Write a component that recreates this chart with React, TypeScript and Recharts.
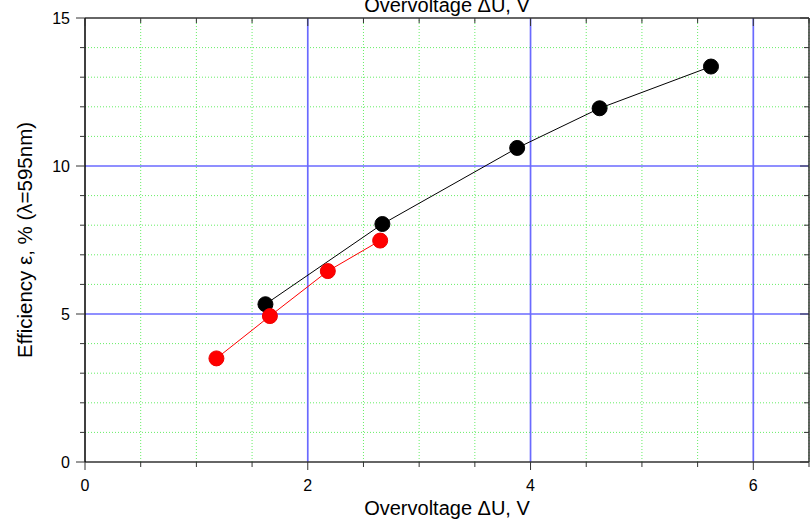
import React from "react";
import {
  ComposedChart,
  Line,
  XAxis,
  YAxis,
  ReferenceLine,
  Label,
} from "recharts";

// measured points (overvoltage dU in V, efficiency in %)
const blackU = [1.62, 2.67, 3.88, 4.62, 5.62];
const blackEff = [5.33, 8.04, 10.61, 11.95, 13.36];
const redU = [1.18, 1.66, 2.18, 2.65];
const redEff = [3.5, 4.93, 6.45, 7.48];

const xTicks = [0, 0.5, 1, 1.5, 2, 2.5, 3, 3.5, 4, 4.5, 5, 5.5, 6, 6.5];
const xMajor = [0, 2, 4, 6];
const yTicks = [0, 1, 2, 3, 4, 5, 6, 7, 8, 9, 10, 11, 12, 13, 14, 15];
const yMajor = [0, 5, 10, 15];

const gridXMinor = [0.5, 1, 1.5, 2.5, 3, 3.5, 4.5, 5, 5.5, 6.5];
const gridXMajor = [2, 4, 6];
const gridYMinor = [1, 2, 3, 4, 6, 7, 8, 9, 11, 12, 13, 14];
const gridYMajor = [5, 10];

const blackData = blackU.map((u, i) => ({ u, eff: blackEff[i] }));
const redData = redU.map((u, i) => ({ u, eff: redEff[i] }));

const FONT = "'Liberation Sans', Arial, sans-serif";
const AXIS = "#333";

const BottomTick = (props: any) => {
  const { x, y, payload } = props;
  const major = xMajor.includes(payload.value);
  return (
    <g>
      <line x1={x} x2={x} y1={y} y2={y + (major ? 8 : 5)} stroke={AXIS} />
      {major && (
        <text x={x} y={y + 29} textAnchor="middle" fontSize={16} fontFamily={FONT} fill="#000">
          {payload.value}
        </text>
      )}
    </g>
  );
};

const TopTick = (props: any) => {
  const { x, y, payload } = props;
  const major = xMajor.includes(payload.value);
  return <line x1={x} x2={x} y1={y} y2={y + (major ? 8 : 5)} stroke={AXIS} />;
};

const LeftTick = (props: any) => {
  const { x, y, payload } = props;
  const major = yMajor.includes(payload.value);
  return (
    <g>
      <line x1={x - (major ? 9 : 5)} x2={x} y1={y} y2={y} stroke={AXIS} />
      {major && (
        <text x={x - 15} y={y + 6} textAnchor="end" fontSize={16} fontFamily={FONT} fill="#000">
          {payload.value}
        </text>
      )}
    </g>
  );
};

const RightTick = (props: any) => {
  const { x, y, payload } = props;
  const major = yMajor.includes(payload.value);
  return <line x1={x - (major ? 9 : 5)} x2={x} y1={y} y2={y} stroke={AXIS} />;
};

const Dot = (color: string) => (props: any) => {
  const { cx, cy } = props;
  return <circle cx={cx} cy={cy} r={7.5} fill={color} stroke={color === "#000" ? "#000" : "#e00"} strokeWidth={1} />;
};

export default function App() {
  return (
    <div style={{ position: "absolute", left: 0, top: 0, background: "#fff" }}>
      <ComposedChart width={810} height={520} margin={{ top: 0, right: 0, bottom: 0, left: 0 }}>
        <XAxis
          xAxisId="b"
          type="number"
          dataKey="u"
          domain={[0, 6.5]}
          ticks={xTicks}
          interval={0}
          height={58}
          tickSize={0}
          tickMargin={0}
          tickLine={false}
          tick={<BottomTick />}
          stroke={AXIS}
          strokeWidth={1.5}
          allowDataOverflow
        >
          <Label value="Overvoltage ΔU, V" position="insideBottom" offset={5} fontSize={20} fontFamily={FONT} fill="#000" />
        </XAxis>
        <XAxis
          xAxisId="t"
          orientation="top"
          type="number"
          dataKey="u"
          domain={[0, 6.5]}
          ticks={xTicks}
          interval={0}
          height={18}
          tickSize={0}
          tickMargin={0}
          tickLine={false}
          tick={<TopTick />}
          stroke={AXIS}
          strokeWidth={1.5}
          allowDataOverflow
        >
          <Label value="Overvoltage ΔU, V" position="insideTop" offset={-2} fontSize={20} fontFamily={FONT} fill="#000" />
        </XAxis>
        <YAxis
          yAxisId="l"
          type="number"
          domain={[0, 15]}
          ticks={yTicks}
          interval={0}
          width={85}
          tickSize={0}
          tickMargin={0}
          tickLine={false}
          tick={<LeftTick />}
          stroke="#000"
          strokeWidth={1.5}
          allowDataOverflow
        >
          <Label
            value="Efficiency ε, % (λ=595nm)"
            angle={-90}
            position="insideLeft"
            offset={25}
            fontSize={20.5}
            fontFamily={FONT}
            fill="#000"
            style={{ textAnchor: "middle" }}
          />
        </YAxis>
        <YAxis
          yAxisId="r"
          orientation="right"
          type="number"
          domain={[0, 15]}
          ticks={yTicks}
          interval={0}
          width={1}
          tickSize={0}
          tickMargin={0}
          tickLine={false}
          tick={<RightTick />}
          stroke={AXIS}
          strokeWidth={1.5}
          allowDataOverflow
        />

        {gridXMinor.map((v) => (
          <ReferenceLine key={"xm" + v} xAxisId="b" yAxisId="l" x={v} stroke="#66ee66" strokeDasharray="1 2" />
        ))}
        {gridYMinor.map((v) => (
          <ReferenceLine key={"ym" + v} xAxisId="b" yAxisId="l" y={v} stroke="#66ee66" strokeDasharray="1 2" />
        ))}
        {gridXMajor.map((v) => (
          <ReferenceLine key={"xM" + v} xAxisId="b" yAxisId="l" x={v} stroke="#6a6aff" strokeWidth={1.7} />
        ))}
        {gridYMajor.map((v) => (
          <ReferenceLine key={"yM" + v} xAxisId="b" yAxisId="l" y={v} stroke="#6a6aff" strokeWidth={1.7} />
        ))}

        <Line
          xAxisId="b"
          yAxisId="l"
          data={blackData}
          dataKey="eff"
          type="linear"
          stroke="#000"
          strokeWidth={1}
          dot={Dot("#000")}
          activeDot={false}
          isAnimationActive={false}
        />
        <Line
          xAxisId="b"
          yAxisId="l"
          data={redData}
          dataKey="eff"
          type="linear"
          stroke="#ff0000"
          strokeWidth={1}
          dot={Dot("#ff0000")}
          activeDot={false}
          isAnimationActive={false}
        />
      </ComposedChart>
    </div>
  );
}
